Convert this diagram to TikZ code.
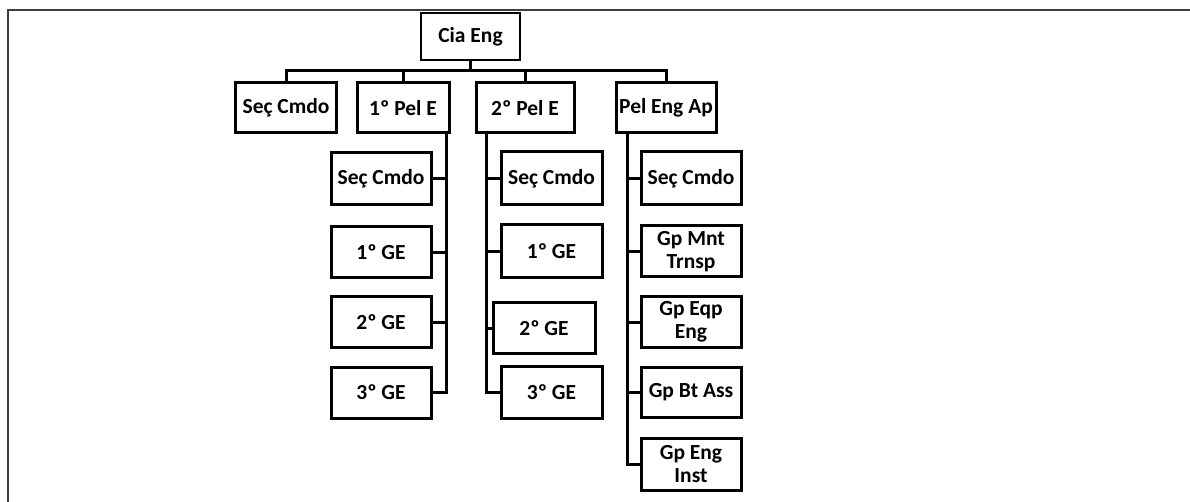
\documentclass[tikz,border=0pt]{standalone}
\usepackage{fontspec}
\setmainfont{Carlito}
\begin{document}
\begin{tikzpicture}[x=1pt,y=-1pt,
  bx/.style={draw=black,line width=3pt,fill=white,inner sep=0pt,align=center,
    font=\fontsize{21.5}{23}\selectfont\bfseries},
  conn/.style={line width=3pt,draw=black}]
\useasboundingbox (0,0) rectangle (1190,502);
\fill[white] (0,0) rectangle (1190,502);
% frame
\draw[line width=1.5pt,draw={rgb,255:red,60;green,60;blue,75}] (8,502) -- (8,10) -- (1190,10);
% root
\node[bx,line width=2pt,minimum width=99pt,minimum height=47pt] (cia) at (470.5,36.5) {Cia Eng};
% top row
\node[bx,minimum width=101pt,minimum height=50pt] (sc0) at (286,108) {Seç Cmdo};
\node[bx,minimum width=92pt,minimum height=50pt] (p1) at (403,108) {1º Pel E};
\node[bx,minimum width=98pt,minimum height=50pt] (p2) at (525,108) {2º Pel E};
\node[bx,minimum width=100pt,minimum height=50pt] (pea) at (666,108) {Pel Eng Ap};
% column 1
\node[bx,minimum width=100pt,minimum height=52pt] (c1s) at (381,179) {Seç Cmdo};
\node[bx,minimum width=100pt,minimum height=51pt] (c1g1) at (381,252.5) {1º GE};
\node[bx,minimum width=100pt,minimum height=50pt] (c1g2) at (381,322) {2º GE};
\node[bx,minimum width=100pt,minimum height=51pt] (c1g3) at (381,392.5) {3º GE};
% column 2
\node[bx,minimum width=101pt,minimum height=53pt] (c2s) at (551.5,178.5) {Seç Cmdo};
\node[bx,minimum width=101pt,minimum height=53pt] (c2g1) at (551.5,251.5) {1º GE};
\node[bx,minimum width=102pt,minimum height=50pt] (c2g2) at (544,328) {2º GE};
\node[bx,minimum width=101pt,minimum height=52pt] (c2g3) at (551.5,392) {3º GE};
% column 3
\node[bx,minimum width=100pt,minimum height=53pt] (c3s) at (691,178.5) {Seç Cmdo};
\node[bx,minimum width=100pt,minimum height=51pt] (c3a) at (691,251.5) {Gp Mnt\\Trnsp};
\node[bx,minimum width=100pt,minimum height=50pt] (c3b) at (691,322) {Gp Eqp\\Eng};
\node[bx,minimum width=100pt,minimum height=50pt] (c3c) at (691,392) {Gp Bt Ass};
\node[bx,minimum width=100pt,minimum height=52pt] (c3d) at (691,464) {Gp Eng\\Inst};
% bus
\coordinate (bus) at (470.5,71);
\draw[conn] (cia.south) -- (bus);
\draw[conn] (sc0.north) |- (bus) -| (pea.north);
\draw[conn] (p1.north) -- (p1.north |- bus);
\draw[conn] (p2.north) -- (p2.north |- bus);
% column spines
\coordinate (t1) at (446,134);
\coordinate (t2) at (486,134);
\coordinate (t3) at (627,134);
\draw[conn] (t1) |- (c1g3.east);
\draw[conn] (c1s.east) -- (c1s.east -| t1);
\draw[conn] (c1g1.east) -- (c1g1.east -| t1);
\draw[conn] (c1g2.east) -- (c1g2.east -| t1);
\draw[conn] (t2) |- (c2g3.west);
\draw[conn] (c2s.west) -- (c2s.west -| t2);
\draw[conn] (c2g1.west) -- (c2g1.west -| t2);
\draw[conn] (c2g2.west) -- (c2g2.west -| t2);
\draw[conn] (t3) |- (c3d.west);
\draw[conn] (c3s.west) -- (c3s.west -| t3);
\draw[conn] (c3a.west) -- (c3a.west -| t3);
\draw[conn] (c3b.west) -- (c3b.west -| t3);
\draw[conn] (c3c.west) -- (c3c.west -| t3);
\end{tikzpicture}
\end{document}
